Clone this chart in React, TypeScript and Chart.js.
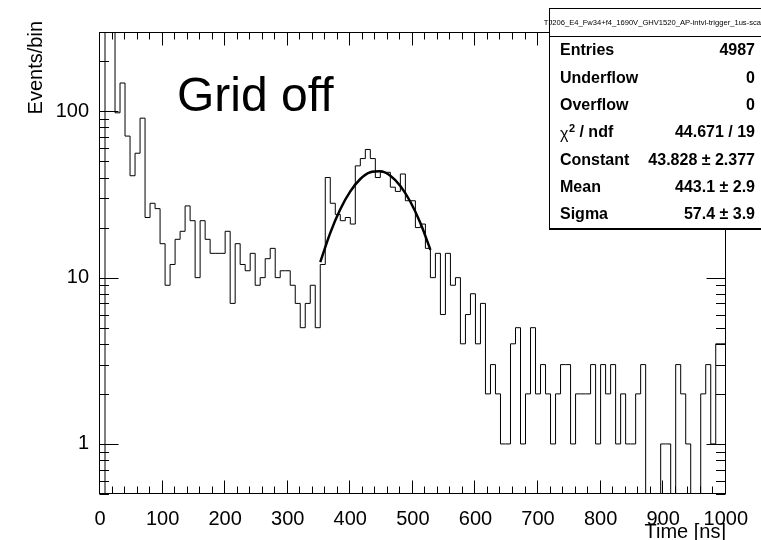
import React, { useEffect, useRef } from 'react';
import { Chart, registerables } from 'chart.js';

Chart.register(...registerables);

// ---------------- data ----------------
const BIN_WIDTH_NS = 8;
const X_MIN = 0;
const X_MAX = 1000;
const Y_MIN = 0.5;
const Y_MAX = 300;
const ZERO_FLOOR = 0.2; // empty bins are drawn at the bottom of the log frame

// bin contents, bins 0..43 (0 - 352 ns)
const countsEarly = [
  0, 1700, 1377, 98, 148, 71, 41, 56, 91, 23,
  28, 26, 16, 9, 12, 17, 19, 27, 22, 10,
  22, 17, 14, 14, 14, 19, 7, 16, 12, 11,
  14, 9, 10, 13, 15, 10, 11, 11, 9, 7,
  5, 7, 9, 5,
];
// bins 44..65 (fit range 352 - 528 ns)
const countsPeak = [
  12, 40, 28, 24, 22, 23, 21, 47, 52, 59,
  52, 40, 43, 43, 35, 33, 42, 29, 29, 20,
  21, 15,
];
// bins 66..124 (528 - 1000 ns)
const countsTail = [
  10, 14, 6, 14,
  9, 10, 4, 6, 8, 4, 7, 2, 3, 2,
  1, 1, 4, 5, 1, 2, 5, 2, 3, 2,
  1, 2, 3, 3, 1, 2, 2, 2, 3, 1,
  3, 2, 3, 1, 2, 1, 1, 2, 3, 0,
  0, 0, 1, 1, 0, 3, 2, 1, 0, 0,
  2, 3, 1, 4, 4,
];
const counts = [...countsEarly, ...countsPeak, ...countsTail];

// fitted curve
const fitX = [352, 368, 384, 400, 416, 432, 448, 464, 480, 496, 512, 528];
const fitY = [12.4, 18.6, 25.8, 33.0, 39.2, 43.0, 43.6, 41.0, 35.6, 28.6, 21.3, 14.7];

const X_MAJOR_STEP = 100;
const X_MINOR_STEP = 20;
const yTickValues = [1, 10, 100];

const titleText = 'TJ206_E4_Fw34+f4_1690V_GHV1520_AP-intvl-trigger_1us-sca';
const statLabels = ['Entries', 'Underflow', 'Overflow', 'CHI', 'Constant', 'Mean', 'Sigma'];
const statValues = ['4987', '0', '0', '44.671 / 19', '43.828 \u00b1 2.377', '443.1 \u00b1 2.9', '57.4 \u00b1 3.9'];

const FONT = "'Liberation Sans', Arial, Helvetica, sans-serif";

const rootDecor = {
  id: 'rootDecor',
  afterDraw(chart: any) {
    const { ctx, chartArea: a } = chart;
    const xs = chart.scales.x;
    const ys = chart.scales.y;
    ctx.save();
    ctx.strokeStyle = '#000';
    ctx.lineWidth = 1;
    const L = Math.round(a.left) - 0.5;
    const R = Math.round(a.right) - 0.5;
    const T = Math.round(a.top) + 0.5;
    const B = Math.round(a.bottom) - 0.5;
    ctx.strokeRect(L, T, R - L, B - T);

    ctx.beginPath();
    for (let v = X_MIN; v <= X_MAX + 1e-6; v += X_MINOR_STEP) {
      const px = Math.round(xs.getPixelForValue(v)) - 0.5;
      const len = v % X_MAJOR_STEP === 0 ? 13 : 7;
      ctx.moveTo(px, B); ctx.lineTo(px, B - len);
      ctx.moveTo(px, T); ctx.lineTo(px, T + len);
    }
    for (let e = -1; e <= 3; e++) {
      for (let m = 1; m <= 9; m++) {
        const v = m * Math.pow(10, e);
        if (v < Y_MIN || v > Y_MAX) continue;
        const py = Math.round(ys.getPixelForValue(v)) + 0.5;
        const len = m === 1 ? 19 : 9.5;
        ctx.moveTo(L, py); ctx.lineTo(L + len, py);
        ctx.moveTo(R, py); ctx.lineTo(R - len, py);
      }
    }
    ctx.stroke();

    ctx.fillStyle = '#000';
    // big label
    ctx.font = `48px ${FONT}`;
    ctx.textAlign = 'left';
    ctx.textBaseline = 'alphabetic';
    ctx.fillText('Grid off', 177, 111);

    // axis titles
    ctx.font = `20px ${FONT}`;
    ctx.textAlign = 'right';
    ctx.textBaseline = 'middle';
    ctx.fillText('Time [ns]', Math.round(a.right), 532);
    ctx.save();
    ctx.translate(36, 21);
    ctx.rotate(-Math.PI / 2);
    ctx.textAlign = 'right';
    ctx.fillText('Events/bin', 0, 0);
    ctx.restore();

    // title box
    const bx = 549.5;
    ctx.fillStyle = '#fff';
    ctx.fillRect(bx, 8.5, 220, 28);
    ctx.strokeRect(bx, 8.5, 220, 28);
    ctx.fillStyle = '#000';
    ctx.font = `7.6px ${FONT}`;
    ctx.textAlign = 'right';
    ctx.textBaseline = 'middle';
    ctx.fillText(titleText, 761, 22.5);

    // stats box
    ctx.fillStyle = '#fff';
    ctx.fillRect(bx, 36.5, 220, 192);
    ctx.strokeRect(bx, 36.5, 220, 192);
    ctx.fillStyle = '#000';
    ctx.fillRect(bx - 0.5, 228, 220, 2);
    const rowY = [51, 79, 106, 133, 161, 188, 215];
    for (let i = 0; i < statLabels.length; i++) {
      const y = rowY[i];
      ctx.textBaseline = 'middle';
      ctx.textAlign = 'left';
      if (statLabels[i] === 'CHI') {
        ctx.font = `16px ${FONT}`;
        ctx.fillText('\u03c7', 560, y + 2);
        const w1 = ctx.measureText('\u03c7').width;
        ctx.font = `bold 11px ${FONT}`;
        ctx.fillText('2', 560 + w1 + 0.5, y - 4);
        const w2 = ctx.measureText('2').width;
        ctx.font = `bold 16px ${FONT}`;
        ctx.fillText(' / ndf', 560 + w1 + w2 + 0.5, y);
      } else {
        ctx.font = `bold 16px ${FONT}`;
        ctx.fillText(statLabels[i], 560, y);
      }
      ctx.font = `bold 16px ${FONT}`;
      ctx.textAlign = 'right';
      ctx.fillText(statValues[i], 755, y);
    }
    ctx.restore();
  },
};

export default function App() {
  const ref = useRef<HTMLCanvasElement>(null);
  useEffect(() => {
    const canvas = ref.current;
    if (!canvas) return;
    const histPoints = counts.map((c, i) => ({ x: X_MIN + i * BIN_WIDTH_NS, y: c > 0 ? c : ZERO_FLOOR }));
    histPoints.push({ x: X_MIN + counts.length * BIN_WIDTH_NS, y: ZERO_FLOOR });
    const fitPoints = fitX.map((x, i) => ({ x, y: fitY[i] }));

    const chart = new Chart(canvas, {
      type: 'line',
      data: {
        datasets: [
          {
            label: 'fit',
            data: fitPoints,
            borderColor: '#000',
            borderWidth: 2.5,
            pointRadius: 0,
            fill: false,
            cubicInterpolationMode: 'monotone',
            order: 0,
          },
          {
            label: 'hist',
            data: histPoints,
            borderColor: '#000',
            borderWidth: 1,
            pointRadius: 0,
            fill: false,
            stepped: 'before',
            tension: 0,
            order: 1,
          },
        ],
      },
      options: {
        animation: false,
        responsive: false,
        devicePixelRatio: 1,
        layout: { padding: { left: 0, top: 32, right: 34, bottom: 0 } },
        plugins: { legend: { display: false }, tooltip: { enabled: false }, title: { display: false } },
        scales: {
          x: {
            type: 'linear',
            min: X_MIN,
            max: X_MAX,
            grid: { display: false, drawTicks: false },
            border: { display: false },
            ticks: {
              stepSize: X_MAJOR_STEP,
              autoSkip: false,
              maxRotation: 0,
              padding: 13,
              color: '#000',
              font: { family: FONT, size: 20 },
              callback: (v: any) => String(v),
            },
            afterFit: (s: any) => { s.height = 46; },
          },
          y: {
            type: 'logarithmic',
            min: Y_MIN,
            max: Y_MAX,
            grid: { display: false, drawTicks: false },
            border: { display: false },
            afterBuildTicks: (s: any) => { s.ticks = yTickValues.map((v) => ({ value: v })); },
            ticks: {
              autoSkip: false,
              padding: 11,
              color: '#000',
              font: { family: FONT, size: 20 },
              callback: (v: any) => String(v),
            },
            afterFit: (s: any) => { s.width = 100; },
          },
        },
      },
      plugins: [rootDecor],
    } as any);
    return () => chart.destroy();
  }, []);

  return (
    <div style={{ position: 'absolute', left: 0, top: 0, width: 761, height: 540, background: '#fff', overflow: 'hidden' }}>
      <canvas ref={ref} width={761} height={540} style={{ display: 'block', width: 761, height: 540 }} />
    </div>
  );
}
